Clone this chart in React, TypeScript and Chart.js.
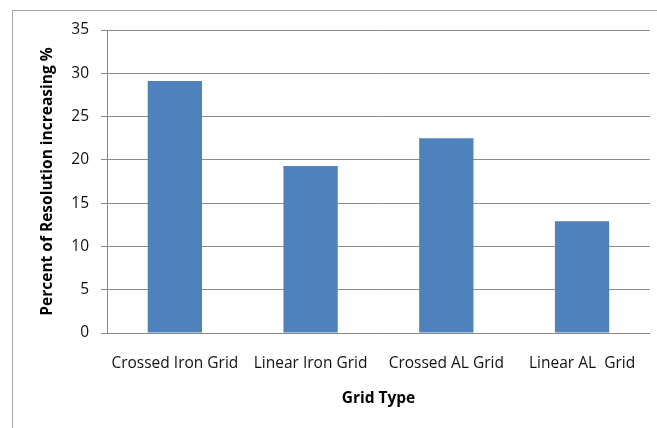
import React, { useEffect, useRef } from "react";
import { Chart, registerables } from "chart.js";

Chart.register(...registerables);

const categories = ["Crossed Iron Grid", "Linear Iron Grid", "Crossed AL Grid", "Linear AL  Grid"];
const values = [29.1, 19.3, 22.5, 12.9];
const yTitle = "Percent of Resolution increasing %";
const xTitle = "Grid Type";

const FONT = "'Open Sans', 'Liberation Sans', sans-serif";
const SIZE = 15.5;

export default function App() {
  const ref = useRef<HTMLCanvasElement | null>(null);

  useEffect(() => {
    if (!ref.current) return;
    const chart = new Chart(ref.current, {
      type: "bar",
      data: {
        labels: categories,
        datasets: [
          {
            data: values,
            backgroundColor: "#4F81BD",
            borderColor: "#4F81BD",
            borderWidth: 0,
            barPercentage: 0.4,
            categoryPercentage: 1,
          },
        ],
      },
      options: {
        responsive: false,
        animation: false,
        devicePixelRatio: 1,
        layout: { padding: { left: 0, right: 7, top: 30, bottom: 0 } },
        plugins: {
          legend: { display: false },
          tooltip: { enabled: false },
        },
        scales: {
          x: {
            grid: { display: false, drawTicks: false },
            border: { display: true, color: "#868686", width: 1 },
            ticks: {
              color: "#111",
              font: { family: FONT, size: SIZE },
              padding: 21,
              maxRotation: 0,
              autoSkip: false,
            },
            title: {
              display: true,
              text: xTitle,
              color: "#000",
              font: { family: FONT, size: SIZE, weight: "bold" },
              padding: { top: 0, bottom: 19.7 },
            },
            afterFit: (s: any) => {
              s.height = 95;
            },
          },
          y: {
            min: 0,
            max: 35,
            ticks: {
              stepSize: 5,
              color: "#111",
              font: { family: FONT, size: SIZE },
              padding: 12,
            },
            grid: { color: "#8c8c8c", tickLength: 6, drawTicks: true },
            border: { display: true, color: "#868686", width: 1 },
            title: {
              display: true,
              text: yTitle,
              color: "#000",
              font: { family: FONT, size: SIZE, weight: "bold" },
              padding: { top: 38.7, bottom: 0 },
            },
            afterFit: (s: any) => {
              s.width = 107;
            },
          },
        },
      },
    });
    return () => chart.destroy();
  }, []);

  return (
    <div style={{ position: "absolute", left: 0, top: 0, width: 657, height: 428, overflow: "hidden", background: "#fff" }}>
      <canvas ref={ref} width={657} height={428} style={{ position: "absolute", left: 0, top: 0 }} />
      <div
        style={{
          position: "absolute",
          left: 12,
          top: 10,
          right: 0,
          bottom: 0,
          borderLeft: "1px solid #a6a6a6",
          borderTop: "1px solid #a6a6a6",
          pointerEvents: "none",
        }}
      />
    </div>
  );
}
